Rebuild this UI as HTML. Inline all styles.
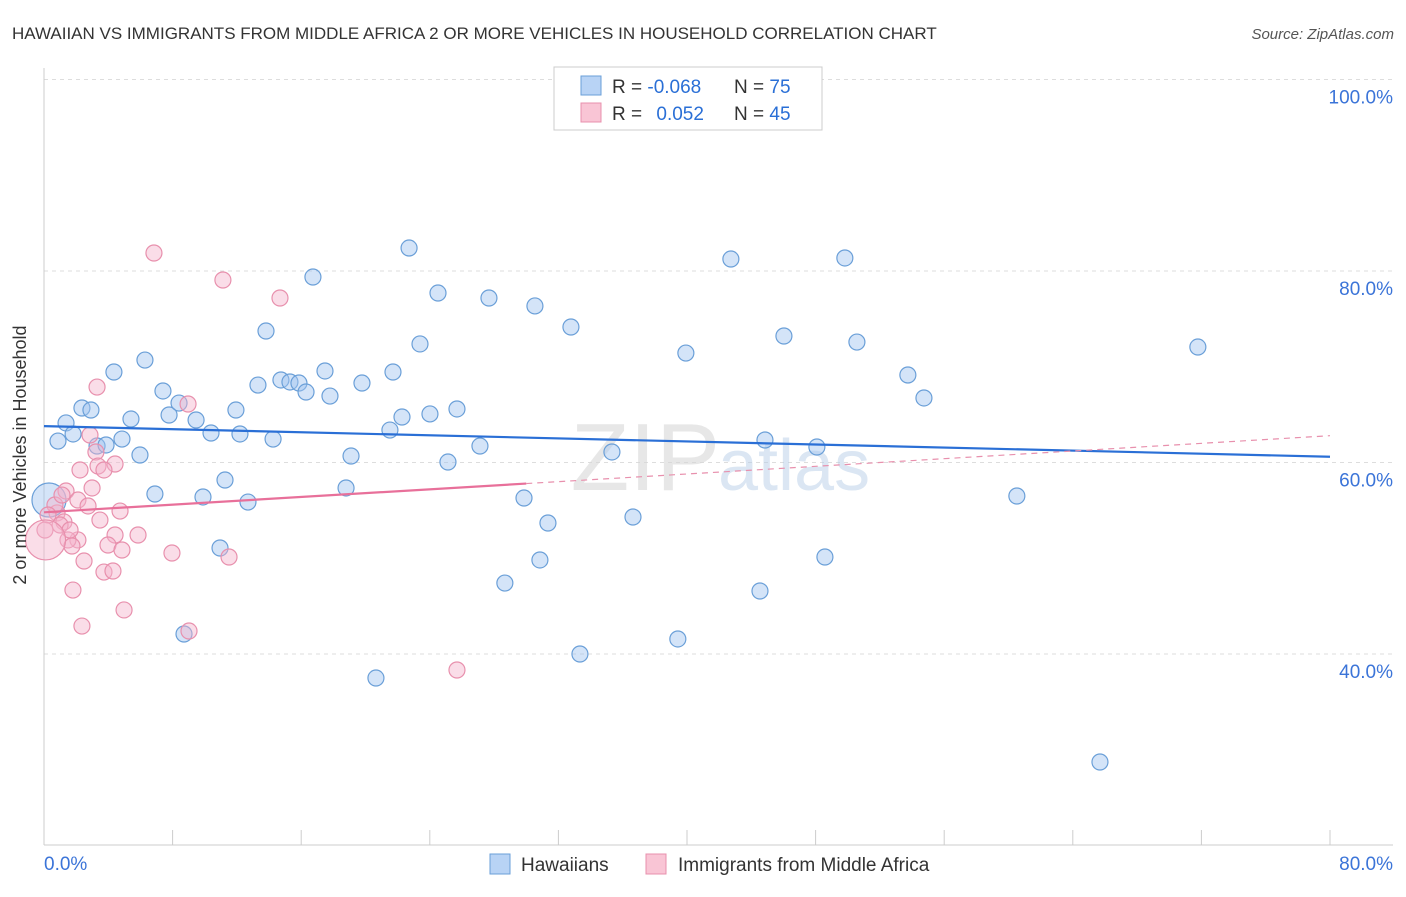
<!DOCTYPE html>
<html><head><meta charset="utf-8"><style>
body{margin:0;background:#fff;font-family:"Liberation Sans",sans-serif;}
svg text{font-family:"Liberation Sans",sans-serif;}
</style></head><body>
<svg id="chart" width="1406" height="892" xmlns="http://www.w3.org/2000/svg">
<text x="12" y="39" font-size="17" fill="#333">HAWAIIAN VS IMMIGRANTS FROM MIDDLE AFRICA 2 OR MORE VEHICLES IN HOUSEHOLD CORRELATION CHART</text>
<text x="1394" y="39" font-size="15" fill="#555" font-style="italic" text-anchor="end">Source: ZipAtlas.com</text>
<g id="grid"></g>
<text x="720" y="490" font-size="96" fill="#d8d8d8" font-family="Liberation Serif" text-anchor="end" opacity="0.6">ZIP</text>
<text x="718" y="490" font-size="72" fill="#b8cfe8" opacity="0.5">atlas</text>
<g id="axes"></g>
<g id="marks"></g>
<g id="trends"></g>
<text x="26" y="455" font-size="18" fill="#333" text-anchor="middle" transform="rotate(-90 26 455)">2 or more Vehicles in Household</text>
<g>
<rect x="554" y="67" width="268" height="63" fill="#fff" stroke="#ccc"/>
<rect x="581" y="76" width="20" height="19" fill="#b8d3f5" stroke="#6a9fd8"/>
<rect x="581" y="103" width="20" height="19" fill="#f9c5d5" stroke="#e890ad"/>
<text x="612" y="93" font-size="19" fill="#333">R = <tspan fill="#2a6fd6">-0.068</tspan></text>
<text x="734" y="93" font-size="19" fill="#333">N = <tspan fill="#2a6fd6">75</tspan></text>
<text x="612" y="120" font-size="19" fill="#333">R = <tspan fill="#2a6fd6" dx="9">0.052</tspan></text>
<text x="734" y="120" font-size="19" fill="#333">N = <tspan fill="#2a6fd6">45</tspan></text>
</g>
<g>
<rect x="490" y="854" width="20" height="20" fill="#b8d3f5" stroke="#6a9fd8"/>
<text x="521" y="871" font-size="19" fill="#333">Hawaiians</text>
<rect x="646" y="854" width="20" height="20" fill="#f9c5d5" stroke="#e890ad"/>
<text x="678" y="871" font-size="19" fill="#333">Immigrants from Middle Africa</text>
</g>
</svg>
<script>
const blueX=[0.87,1.37,1.81,2.36,2.92,3.30,3.86,4.35,4.85,5.41,5.97,6.28,6.90,7.40,7.78,8.40,8.71,9.46,9.89,10.39,10.95,11.26,11.94,12.19,12.69,13.31,13.81,14.25,14.74,15.30,15.86,16.30,16.73,17.48,17.79,18.79,19.10,19.78,20.65,21.52,21.71,22.27,22.71,23.39,24.01,24.51,25.13,25.69,27.12,27.68,28.67,29.86,30.54,30.85,31.35,32.78,33.34,35.33,36.64,39.43,39.93,42.73,44.54,44.85,46.03,48.08,48.58,49.82,50.57,53.74,54.74,60.52,65.69,71.78,0.31];
const blueY=[62.24,64.13,62.98,65.69,65.48,61.72,61.83,69.45,62.45,64.54,60.78,70.70,56.71,67.47,64.96,66.21,42.09,64.44,56.40,63.08,51.07,58.17,65.48,62.98,55.87,68.09,73.73,62.45,68.62,68.41,68.30,67.36,79.37,69.56,66.94,57.34,60.68,68.30,37.49,63.39,69.45,64.75,82.40,72.38,65.07,77.70,60.05,65.59,61.72,77.18,47.41,56.29,76.35,49.82,53.68,74.15,40.00,61.10,54.31,41.57,71.43,81.25,46.58,62.35,73.21,61.62,50.13,81.36,72.58,69.14,66.74,56.50,28.72,72.06,56.08];
const pinkX=[6.84,11.13,14.68,3.30,8.96,2.86,3.23,4.42,3.36,3.73,2.99,1.37,2.11,2.74,4.73,0.81,1.24,4.42,5.85,2.11,1.49,1.74,3.98,4.85,7.96,11.51,2.49,3.73,4.29,1.80,4.98,2.36,9.02,25.69,0.68,1.00,0.25,1.12,2.24,3.48,1.62,0.06,0.10];
const pinkY=[81.88,79.06,77.18,67.88,66.11,62.87,61.10,59.84,59.63,59.22,57.34,57.02,56.08,55.46,54.93,54.73,53.79,52.43,52.43,51.91,51.91,51.28,51.38,50.86,50.55,50.13,49.71,48.56,48.67,46.68,44.60,42.92,42.40,38.33,55.56,53.47,54.52,56.60,59.22,53.99,52.95,52.95,51.91];
const yTicks=[40,60,80,100];
const yTickLabels=["40.0%","60.0%","80.0%","100.0%"];
const xTicks=[0,8,16,24,32,40,48,56,64,72,80];
const blueTrend=[63.8,60.6]; // at x=0 and x=80
const pinkTrend=[54.8,62.8];  // at x=0 and x=80
const pinkSolidEnd=30;
const NS="http://www.w3.org/2000/svg";
const sx=v=>44+v*16.075, sy=v=>654-(v-40)*9.575;
function mk(t,a,p){const e=document.createElementNS(NS,t);for(const k in a)e.setAttribute(k,a[k]);p.appendChild(e);return e;}
const grid=document.getElementById('grid'),axes=document.getElementById('axes'),marks=document.getElementById('marks'),trends=document.getElementById('trends');
yTicks.forEach((v,i)=>{
 const l=mk('line',{x1:44,x2:1393,y1:sy(v),y2:sy(v),stroke:'#ddd','stroke-dasharray':'4 4'},grid);
 
 
 const t=mk('text',{x:1393,y:sy(v)+24,'font-size':19,fill:'#3b74d8','text-anchor':'end'},axes);
 t.textContent=yTickLabels[i];
 
 
});
mk('line',{x1:44,x2:44,y1:68,y2:845,stroke:'#ccc'},axes);
mk('line',{x1:44,x2:1393,y1:845,y2:845,stroke:'#ccc'},axes);
xTicks.forEach(v=>{const l=mk('line',{x1:sx(v),x2:sx(v),y1:830,y2:845,stroke:'#ccc'},axes);
 
 });
let t0=mk('text',{x:44,y:870,'font-size':19,fill:'#3b74d8'},axes);t0.textContent='0.0%';


let t1=mk('text',{x:1393,y:870,'font-size':19,fill:'#3b74d8','text-anchor':'end'},axes);t1.textContent='80.0%';


blueX.forEach((x,i)=>{const c=mk('circle',{cx:sx(x),cy:sy(blueY[i]),r:i==blueX.length-1?17:8,fill:'rgba(160,196,240,0.45)',stroke:'#6a9fd8','stroke-width':1.2},marks);
 
 });
pinkX.forEach((x,i)=>{const c=mk('circle',{cx:sx(x),cy:sy(pinkY[i]),r:i==pinkX.length-1?20:8,fill:'rgba(245,180,204,0.45)',stroke:'#e890ad','stroke-width':1.2},marks);
 
 });
const pAt=x=>pinkTrend[0]+(pinkTrend[1]-pinkTrend[0])*x/80;
let bl=mk('line',{x1:sx(0),y1:sy(blueTrend[0]),x2:sx(80),y2:sy(blueTrend[1]),stroke:'#2a6fd6','stroke-width':2.2},trends);


let pd=mk('line',{x1:sx(pinkSolidEnd),y1:sy(pAt(pinkSolidEnd)),x2:sx(80),y2:sy(pAt(80)),stroke:'#e890ad','stroke-width':1.2,'stroke-dasharray':'6 5'},trends);


let ps=mk('line',{x1:sx(0),y1:sy(pAt(0)),x2:sx(pinkSolidEnd),y2:sy(pAt(pinkSolidEnd)),stroke:'#e8709a','stroke-width':2.2},trends);


</script>
</body></html>
